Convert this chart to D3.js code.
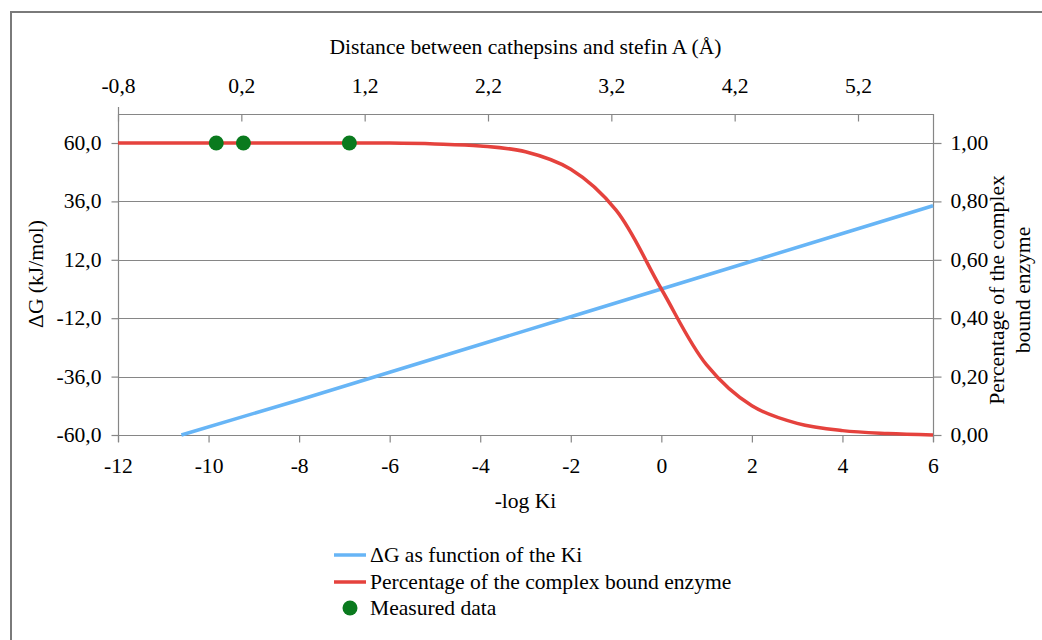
<!DOCTYPE html>
<html>
<head>
<meta charset="utf-8">
<script src="https://cdn.jsdelivr.net/npm/d3@7"></script>
<style>
  html, body { margin: 0; padding: 0; background: #fff; }
  svg { display: block; }
  text { font-family: "Liberation Serif", "Times New Roman", serif; font-size: 20px; fill: #000; }
</style>
</head>
<body>
<svg id="chart" width="1042" height="640"></svg>
<script>
// -log Ki on the bottom axis, ΔG (kJ/mol) on the left axis
const dgLogKi = [-10.6, -8, -6, -4, -2, 0, 2, 4, 6];
const dgValues = [-60.0, -45.6, -34.2, -22.8, -11.4, 0.0, 11.4, 22.8, 34.2];

// fraction of enzyme in the complex (right axis)
const boundLogKi = [-12, -11, -10, -9, -8, -7, -6, -5, -4, -3, -2, -1, 0, 1, 2, 3, 4, 5, 6];
const boundValues = [1.00, 1.00, 1.00, 1.00, 1.00, 1.00, 1.00, 0.997, 0.99, 0.97, 0.91, 0.77, 0.50, 0.24, 0.10, 0.04, 0.015, 0.005, 0.00];

// measured complexes
const measuredLogKi = [-9.83, -9.23, -6.89];
const measuredBound = [1.00, 1.00, 1.00];

// tick labels
const leftTicks = [-60, -36, -12, 12, 36, 60];
const rightTicks = [0, 0.2, 0.4, 0.6, 0.8, 1.0];
const bottomTicks = [-12, -10, -8, -6, -4, -2, 0, 2, 4, 6];
const topTicks = [-0.8, 0.2, 1.2, 2.2, 3.2, 4.2, 5.2];

const legendLabels = ["ΔG as function of the Ki", "Percentage of the complex bound enzyme", "Measured data"];

const COL_BLUE = "#67b5f6";
const COL_RED = "#e5423d";
const COL_GREEN = "#0a7a1e";
const COL_AXIS = "#868686";
const STRETCH = 1.08; // serif glyphs drawn slightly wide

const locale = d3.formatLocale({ decimal: ",", thousands: ".", grouping: [3], currency: ["", ""], minus: "-" });
const f1 = locale.format(".1f");
const f2 = locale.format(".2f");
const f0 = locale.format("d");

const svg = d3.select("#chart");

const plot = { left: 118, right: 933, top: 143, bottom: 435, topAxis: 114 };

const x = d3.scaleLinear().domain([-12, 6]).range([plot.left, plot.right]);
const xTop = d3.scaleLinear().domain([-0.8, -0.8 + (plot.right - plot.left) / (740 / 6)]).range([plot.left, plot.right]);
const yL = d3.scaleLinear().domain([-60, 60]).range([plot.bottom, plot.top]);
const yR = d3.scaleLinear().domain([0, 1]).range([plot.bottom, plot.top]);

function stretchText(sel) {
  sel.each(function () {
    const t = d3.select(this);
    const xv = +(t.attr("x") || 0);
    t.attr("x", xv / STRETCH).attr("transform", `scale(${STRETCH},1)`);
  });
}

// outer frame
svg.append("rect")
  .attr("x", 11).attr("y", 12)
  .attr("width", 1100).attr("height", 700)
  .attr("fill", "none").attr("stroke", "#7a7a7a").attr("stroke-width", 2);

// horizontal gridlines
svg.append("g").selectAll("line").data(leftTicks).join("line")
  .attr("x1", plot.left).attr("x2", plot.right)
  .attr("y1", d => Math.round(yL(d)) + 0.5).attr("y2", d => Math.round(yL(d)) + 0.5)
  .attr("stroke", COL_AXIS).attr("stroke-width", 1);

// frame lines of the plot area
const frame = svg.append("g").attr("stroke", COL_AXIS).attr("stroke-width", 1.2);
frame.append("line").attr("x1", plot.left + 0.5).attr("x2", plot.left + 0.5).attr("y1", plot.topAxis - 7).attr("y2", plot.bottom + 7);
frame.append("line").attr("x1", plot.right + 0.5).attr("x2", plot.right + 0.5).attr("y1", plot.topAxis).attr("y2", plot.bottom + 7);
frame.append("line").attr("x1", plot.left).attr("x2", plot.right).attr("y1", plot.topAxis + 0.5).attr("y2", plot.topAxis + 0.5);

function styleAxis(g) {
  g.select(".domain").remove();
  g.selectAll(".tick line").attr("stroke", COL_AXIS).attr("stroke-width", 1.2);
  g.selectAll(".tick text").attr("font-family", null).attr("font-size", null).attr("fill", "#000");
  stretchText(g.selectAll(".tick text"));
}

svg.append("g").attr("transform", `translate(${plot.left + 0.5},0)`)
  .call(d3.axisLeft(yL).tickValues(leftTicks).tickFormat(f1).tickSize(7).tickPadding(10))
  .call(styleAxis);

svg.append("g").attr("transform", `translate(${plot.right + 0.5},0)`)
  .call(d3.axisRight(yR).tickValues(rightTicks).tickFormat(f2).tickSize(8).tickPadding(9))
  .call(styleAxis);

svg.append("g").attr("transform", `translate(0,${plot.bottom + 0.5})`)
  .call(d3.axisBottom(x).tickValues(bottomTicks).tickFormat(f0).tickSize(7).tickPadding(16))
  .call(styleAxis);

svg.append("g").attr("transform", `translate(0,${plot.topAxis + 0.5})`)
  .call(d3.axisTop(xTop).tickValues(topTicks).tickFormat(f1).tickSize(-7).tickPadding(22))
  .call(styleAxis);

// axis titles
function title(txt, tx, ty, rot) {
  svg.append("text")
    .attr("text-anchor", "middle")
    .attr("transform", `translate(${tx},${ty})${rot ? " rotate(-90)" : ""} scale(${STRETCH},1)`)
    .text(txt);
}
title("Distance between cathepsins and stefin A (Å)", (plot.left + plot.right) / 2, 54, false);
title("-log Ki", (plot.left + plot.right) / 2, 508, false);
title("ΔG (kJ/mol)", 43, 274, true);
title("Percentage of the complex", 1004, 290, true);
title("bound enzyme", 1030, 290, true);

// ΔG line
const dgData = dgLogKi.map((k, i) => [k, dgValues[i]]);
svg.append("path").datum(dgData)
  .attr("fill", "none").attr("stroke", COL_BLUE).attr("stroke-width", 3.5)
  .attr("d", d3.line().x(d => x(d[0])).y(d => yL(d[1])));

// bound fraction curve
const boundData = boundLogKi.map((k, i) => [k, boundValues[i]]);
svg.append("path").datum(boundData)
  .attr("fill", "none").attr("stroke", COL_RED).attr("stroke-width", 3.5)
  .attr("d", d3.line().curve(d3.curveCatmullRom.alpha(0.5)).x(d => x(d[0])).y(d => yR(d[1])));

// measured points
svg.append("g").selectAll("circle").data(measuredLogKi.map((k, i) => [k, measuredBound[i]])).join("circle")
  .attr("cx", d => x(d[0])).attr("cy", d => yR(d[1])).attr("r", 7.5)
  .attr("fill", COL_GREEN);

// legend
const legend = svg.append("g");
const rowY = [555, 582, 608];
const markerTypes = ["blue", "red", "dot"];
markerTypes.forEach((m, i) => {
  const row = legend.append("g").attr("transform", `translate(0,${rowY[i]})`);
  if (m === "dot") {
    row.append("circle").attr("cx", 350).attr("cy", 0).attr("r", 7.5).attr("fill", COL_GREEN);
  } else {
    row.append("line").attr("x1", 334).attr("x2", 366).attr("y1", 0).attr("y2", 0)
      .attr("stroke", m === "blue" ? COL_BLUE : COL_RED).attr("stroke-width", 3.5);
  }
  row.append("text").attr("transform", `translate(370,7) scale(${STRETCH},1)`).text(legendLabels[i]);
});
</script>
</body>
</html>
